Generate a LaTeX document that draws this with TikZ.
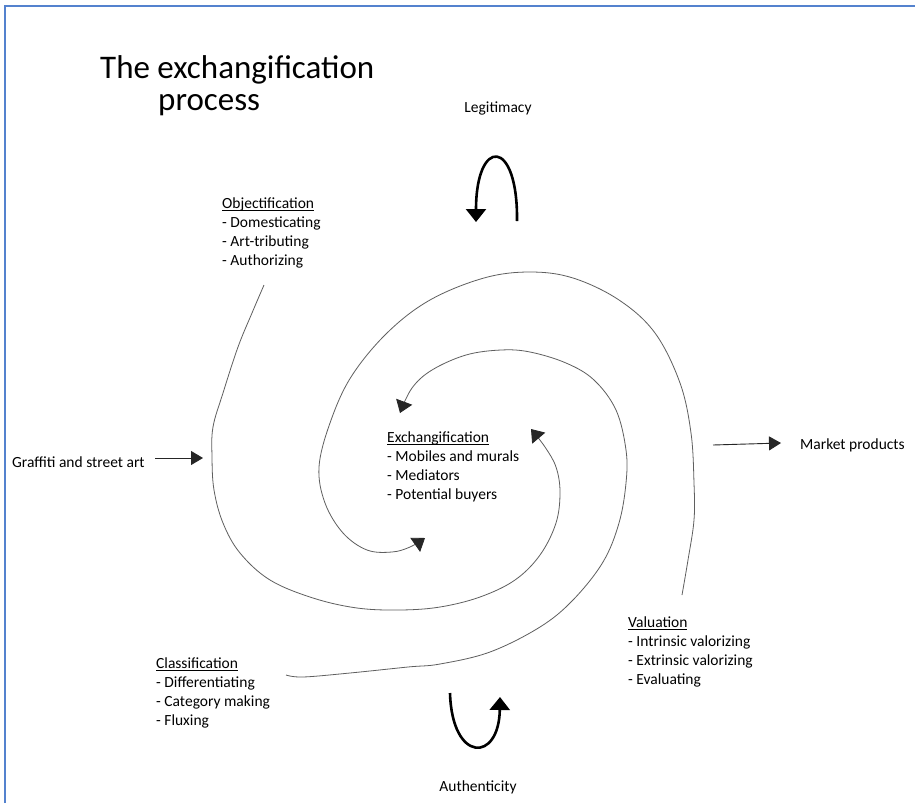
\documentclass[tikz,border=0pt]{standalone}
\usepackage{fontspec}
\setmainfont{Carlito}
\usetikzlibrary{arrows.meta}
\definecolor{frameblue}{RGB}{84,130,206}
\definecolor{spiralgray}{RGB}{95,95,95}
\newcommand\headul[1]{\setbox0\hbox{#1}\rlap{\rule[-2.6pt]{\wd0}{0.8pt}}\box0}
\begin{document}
\begin{tikzpicture}[x=1pt,y=-1pt,
  lbl/.style={font=\fontsize{15.5}{19.2}\selectfont, inner sep=0pt, align=left},
  ttl/.style={font=\fontsize{33}{36}\selectfont, inner sep=0pt},
  spiralline/.style={draw=spiralgray, line width=0.8pt, -{Triangle[length=12pt,width=17pt,color=black!85]}},
  thinarrow/.style={draw=black!85, line width=0.9pt, -{Triangle[length=12pt,width=14pt]}},
  boldarrow/.style={draw=black, line width=2.6pt, -{Triangle[length=13pt,width=20pt]}}
]
\useasboundingbox (0,0) rectangle (915,803);
\fill[white] (0,0) rectangle (915,803);
\draw[frameblue, line width=2.2pt] (5,803) -- (5,6) -- (915,6);

% title
\node[ttl, anchor=base west] (title1) at (100,78) {The exchangification};
\node[ttl, anchor=base west] (title2) at (158,110) {process};

% labels
\node[lbl, anchor=base] (legit) at (498,112) {Legitimacy};
\node[lbl, anchor=base] (auth) at (478,791) {Authenticity};
\node[lbl, anchor=base west] (graffiti) at (12,467) {Graffiti and street art};
\node[lbl, anchor=base west] (market) at (800,449) {Market products};

% multi-line blocks: base anchor is the baseline of the last line
\node[lbl, anchor=base west] (obj) at (222,265.6)
  {\headul{Objectification}\\- Domesticating\\- Art-tributing\\- Authorizing};
\node[lbl, anchor=base west] (exch) at (387,499.6)
  {\headul{Exchangification}\\- Mobiles and murals\\- Mediators\\- Potential buyers};
\node[lbl, anchor=base west] (class) at (156,725.6)
  {\headul{Classification}\\- Differentiating\\- Category making\\- Fluxing};
\node[lbl, anchor=base west] (val) at (628,684.6)
  {\headul{Valuation}\\- Intrinsic valorizing\\- Extrinsic valorizing\\- Evaluating};

% connector end points
\coordinate (c1s) at (264,285);
\coordinate (c1e) at (531,429);
\coordinate (c2s) at (286,675);
\coordinate (c2e) at (400,413);
\coordinate (c3s) at (682,595);
\coordinate (c3e) at (425,538);
\coordinate (gs) at (155,458);
\coordinate (ge) at (203,458);
\coordinate (ms) at (713,445);
\coordinate (me) at (781,443);
\coordinate (ls) at (517,221);
\coordinate (le) at (476,222);
\coordinate (as) at (450,693);
\coordinate (ae) at (500,697);

% spiral
\draw[spiralline] plot[smooth, tension=0.6] coordinates {(c1s) (252,313) (238,347) (223,393) (213,427) (212,457) (214,490) (223,523) (240,553) (270,580) (313,598) (357,608) (400,610) (440,607) (480,597) (515,580) (540,555) (556,523) (560,492) (556,467) (545,447) (c1e)};
\draw[spiralline] plot[smooth, tension=0.6] coordinates {(c2s) (303,677) (350,673) (408,667) (440,664) (490,652) (540,627) (573,600) (603,562) (619,523) (626,483) (626,450) (616,410) (594,380) (566,363) (530,352) (501,350) (466,355) (432,370) (412,388) (c2e)};
\draw[spiralline] plot[smooth, tension=0.6] coordinates {(c3s) (688,560) (694,520) (694,483) (691,433) (680,383) (655,333) (619,300) (573,278) (530,272) (484,278) (430,300) (387,333) (351,377) (330,423) (319,467) (325,503) (343,533) (367,550) (392,552) (410,547) (c3e)};

% in / out arrows
\draw[thinarrow] (gs) -- (ge);
\draw[thinarrow] (ms) -- (me);

% legitimacy and authenticity loops
\draw[boldarrow] (ls) .. controls (518,137) and (476,137) .. (le);
\draw[boldarrow] (as) .. controls (452,763) and (499,763) .. (ae);
\end{tikzpicture}
\end{document}
